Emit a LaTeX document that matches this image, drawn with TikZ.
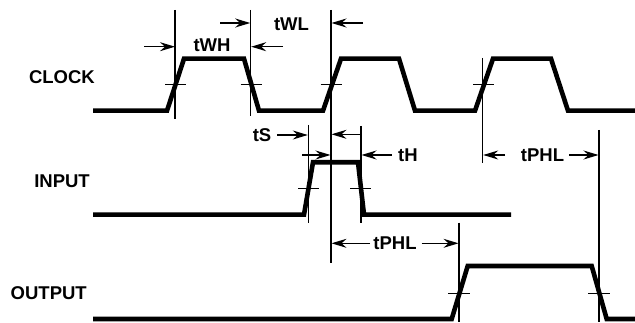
\documentclass[tikz,border=0pt]{standalone}
\usepackage{fontspec}
\setmainfont{Liberation Sans}
\usetikzlibrary{arrows.meta}
\begin{document}
\begin{tikzpicture}[x=1pt,y=-1pt,
  wave/.style={line width=4.6pt},
  thin/.style={line width=1.1pt},
  dim/.style={line width=1.3pt,-{Stealth[length=15pt,width=9pt,inset=5pt]}},
  lbl/.style={font=\fontsize{18.5}{20}\selectfont\bfseries, inner sep=0pt},
  tlbl/.style={font=\fontsize{18.5}{20}\selectfont\bfseries, inner sep=0pt}]
\useasboundingbox (0,0) rectangle (635,323);
% labels
\node[lbl, anchor=east] (clk) at (95,77) {CLOCK};
\node[lbl, anchor=east] (inp) at (90,181.7) {INPUT};
\node[lbl, anchor=east] (out) at (87,293) {OUTPUT};
% waveforms
\draw[wave] (93,110.7) -- (167,110.7) -- (184,58.7) -- (244,58.7) -- (259,110.7)
  -- (323,110.7) -- (341,58.7) -- (399,58.7) -- (415,110.7) -- (475,110.7)
  -- (493,58.7) -- (551,58.7) -- (568,110.7) -- (636,110.7);
\draw[wave] (93,214.7) -- (304,214.7) -- (313,162.3) -- (358,162.3) -- (364,214.7) -- (511,214.7);
\draw[wave] (93,319) -- (451.7,319) -- (467.7,266) -- (591.7,266) -- (606.7,319) -- (636,319);
% ticks
\foreach \x in {175.5,251,331,483.5} \draw[thin] (\x-10.5,84.7) -- (\x+10.5,84.7);
\foreach \x in {308.5,360.5} \draw[thin] (\x-10.5,188.7) -- (\x+10.5,188.7);
\foreach \x in {459,599} \draw[thin] (\x-11,293.3) -- (\x+11,293.3);
% vertical reference lines
\coordinate (v1t) at (175,10);   \coordinate (v1b) at (175,119);
\coordinate (v2t) at (250.7,10); \coordinate (v2b) at (250.7,116);
\coordinate (v3t) at (331,10);   \coordinate (v3b) at (331,263);
\coordinate (v4t) at (482.7,58); \coordinate (v4b) at (482.7,163);
\coordinate (v5t) at (308.3,125);\coordinate (v5b) at (308.3,223);
\coordinate (v6t) at (361,126);  \coordinate (v6b) at (361,223);
\coordinate (v7t) at (459,222.7);\coordinate (v7b) at (459,322);
\coordinate (v8t) at (599,130);  \coordinate (v8b) at (599,322);
\foreach \v in {1,...,8} \draw[thin] (v\v t) -- (v\v b);
% dimension labels
\node[tlbl] (twh) at (212,45.5) {tWH};
\node[tlbl] (twl) at (291.5,24) {tWL};
\node[tlbl] (ts) at (262,135.5) {tS};
\node[tlbl] (th) at (408,155) {tH};
\node[tlbl] (tphl1) at (542.5,155) {tPHL};
\node[tlbl] (tphl2) at (395,243.3) {tPHL};
% arrows
\draw[dim] (144,46.7) -- (175,46.7);
\draw[dim] (283,46.7) -- (251.2,46.7);
\draw[dim] (220,23) -- (250.2,23);
\draw[dim] (363,23) -- (331.5,23);
\draw[dim] (277,135) -- (307.8,135);
\draw[dim] (302,155) -- (330.5,155);
\draw[dim] (361,134.3) -- (331.5,134.3);
\draw[dim] (391.7,155) -- (361.5,155);
\draw[dim] (505,155) -- (483.2,155);
\draw[dim] (569,155) -- (598.5,155);
\draw[dim] (370,243.3) -- (331.5,243.3);
\draw[dim] (421.7,243.3) -- (458.5,243.3);
\end{tikzpicture}
\end{document}
